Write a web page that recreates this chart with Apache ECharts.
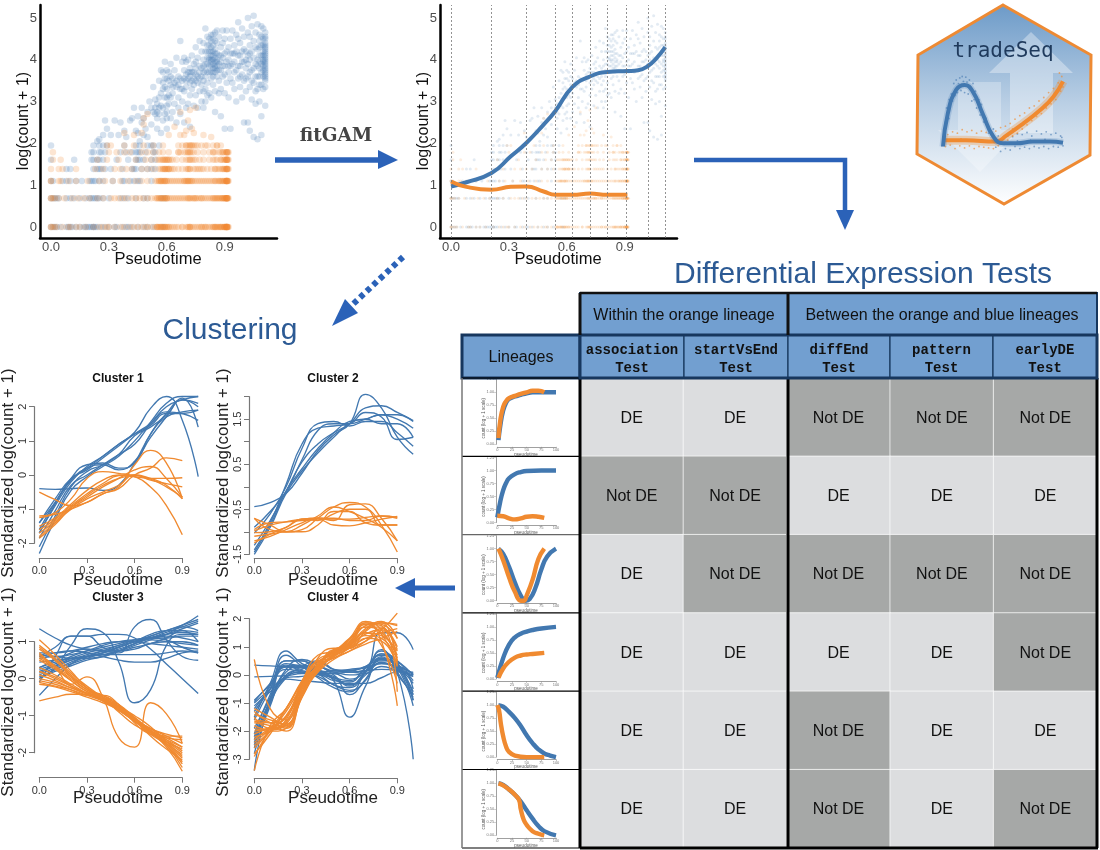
<!DOCTYPE html>
<html><head><meta charset="utf-8">
<style>html,body{margin:0;padding:0;background:#fff}#c{width:1100px;height:850px}</style>
<script src="https://cdn.jsdelivr.net/npm/echarts@6/dist/echarts.min.js"></script>
</head><body><div id="c"></div>
<script>
const BLUE='#4278B0', ORANGE='#F08A30', ARROW='#2B62B8', HEAD='#729FD0', NAVY='#17375E', TITLE='#2C5A94';
const SANS='"Liberation Sans",Arial,sans-serif';

// ---------- top scatter: discrete count levels ----------
const levels=[0,0.69,1.10,1.39,1.61,1.79,1.95];
const orangeRows=[
[0,0,.01,.02,.03,.06,.09,.1,.13,.15,.18,.22,.25,.27,.29,.3,.33,.36,.38,.41,.43,.45,.47,.49,.5,.52,.54,.55,.56,.57,.58,.59,.6,.61,.62,.64,.66,.68,.7,.71,.72,.74,.75,.77,.79,.8,.81,.83,.84,.85,.86,.87,.88,.89,.9,.9,.91,.91,.91],
[0,0,.01,.02,.04,.07,.11,.14,.17,.2,.24,.27,.31,.33,.35,.37,.39,.42,.44,.46,.48,.5,.52,.54,.55,.56,.57,.58,.59,.6,.62,.63,.65,.67,.68,.7,.71,.72,.73,.75,.76,.78,.8,.81,.83,.85,.86,.87,.88,.89,.9,.9,.91,.91],
[0,0,.04,.05,.09,.13,.19,.25,.28,.32,.36,.4,.44,.47,.5,.55,.56,.57,.58,.59,.6,.62,.63,.65,.67,.68,.69,.7,.71,.72,.74,.75,.77,.79,.8,.82,.84,.85,.87,.88,.89,.9,.91,.91,.91],
[0,.04,.06,.13,.23,.27,.33,.36,.39,.42,.47,.5,.53,.57,.58,.59,.6,.61,.63,.66,.68,.7,.71,.72,.74,.76,.77,.79,.81,.83,.85,.86,.88,.89,.9,.91,.91],
[.01,.05,.24,.29,.35,.44,.49,.52,.55,.57,.58,.59,.6,.61,.62,.65,.68,.7,.72,.73,.75,.77,.79,.82,.84,.86,.88,.89,.9,.91,.91,.91],
[.01,.3,.34,.38,.41,.47,.5,.53,.56,.58,.61,.66,.67,.69,.71,.72,.73,.76,.79,.82,.84,.85,.87,.88,.89,.91,.91],
[.29,.31,.38,.43,.48,.53,.58,.66,.68,.7,.71,.72,.73,.75,.76,.78,.8,.81,.84,.86,.88]];
const orangeDense=[
[.55,.56,.57,.58,.59,.6,.61,.63,.65,.68,.71,.72,.73,.76,.78,.8,.82,.84,.85,.86,.87,.88,.89,.9,.905,.91,.91,.915,.915,.92,.55,.57,.59,.72,.78,.85,.88,.9,.91,.915],
[.55,.56,.57,.58,.59,.6,.61,.64,.66,.69,.71,.72,.74,.75,.77,.79,.82,.84,.85,.86,.87,.88,.89,.9,.905,.91,.91,.915,.915,.92,.6,.58,.74,.78,.84,.89,.91,.915],
[.54,.56,.57,.58,.59,.6,.61,.64,.66,.69,.7,.71,.72,.73,.76,.78,.81,.83,.85,.86,.88,.89,.9,.905,.91,.915,.915,.92,.57,.59,.71,.73,.87,.91,.915],
[.56,.58,.59,.6,.61,.62,.64,.71,.72,.75,.78,.85,.87,.89,.9,.91,.915,.92,.915,.91,.59,.61],
[.56,.58,.6,.61,.63,.71,.72,.74,.85,.88,.9,.91,.915,.92,.915,.59],
[.7,.71,.72,.74,.84,.89,.9,.91,.915,.92,.915,.66],
[.7,.72,.73,.74,.86]];
const blueRows=[
[0,.01,.02,.03,.05,.08,.09,.1,.11,.13,.15,.17,.18,.19,.2,.21,.22,.22,.23,.24,.26,.28,.3,.33,.34,.37,.39,.4,.42,.45,.48,.5,.53,.58],
[0,.01,.02,.03,.04,.08,.1,.12,.15,.18,.2,.21,.22,.23,.24,.25,.27,.3,.36,.38,.4,.44,.48,.5,.57,.59],
[0,.01,.06,.08,.1,.13,.16,.2,.21,.22,.23,.25,.27,.32,.37,.38,.41,.43,.45,.46,.52],
[.08,.1,.22,.24,.25,.26,.28,.31,.37,.42,.43,.44,.47,.5,.52,.54],
[0,.12,.21,.22,.24,.25,.27,.34,.4,.44,.45,.46,.48,.52,.54],
[.21,.22,.25,.26,.28,.36,.39,.42,.44,.45,.46,.49,.53,.54],
[0,.22,.25,.27,.29,.38,.44,.46,.5,.52,.53,.56]];
const orangeOff=[[.38,2.25],[.43,2.2],[.47,2.25],[.48,2.45],[.48,2.6],[.5,2.7],[.64,2.4],[.67,2.2],[.69,2.2],[.7,2.3],[.71,2.55],[.72,2.8],[.73,2.35],[.74,2.25],[.67,2.75],[.61,2.2],[.79,2.2],[.83,2.15],[.75,2.85]];
const blueCloud=[
[.27,2.2],[.28,2.55],[.29,2.35],[.25,2.1],[.24,2.05],[.31,2.2],[.33,2.55],[.35,2.2],[.36,2.5],[.38,2.3],[.39,2.15],[.41,2.55],[.42,2.6],[.43,2.85],[.44,2.3],[.45,2.65],[.45,2.25],[.46,2.05],[.47,2.85],[.47,2.5],[.48,2.6],[.48,2.2],[.49,2.35],[.5,2.15],[.5,2.75],[.51,3.0],[.52,2.85],[.52,2.45],[.53,3.35],[.54,3.05],[.54,2.7],[.55,2.35],[.55,2.95],[.56,3.5],[.56,2.7],[.57,3.75],[.57,2.9],[.57,2.25],[.58,3.3],[.58,2.55],[.59,3.95],[.59,3.1],[.59,2.7],[.6,3.55],[.6,3.3],[.6,2.9],[.6,2.35],[.61,3.7],[.61,3.15],[.62,2.6],[.62,3.9],[.62,3.4],[.63,3.55],[.63,3.2],[.64,3.75],[.64,2.95],[.65,3.35],[.65,4.05],[.65,2.5],[.66,3.6],[.66,3.1],[.67,3.3],[.67,2.7],[.67,4.45],[.68,3.95],[.68,3.5],[.68,3.0],[.69,4.05],[.69,3.25],[.69,2.5],[.7,3.65],[.7,3.35],[.7,2.85],[.71,4.0],[.71,3.55],[.71,2.95],[.72,3.8],[.72,3.45],[.72,3.15],[.72,2.4],[.73,4.1],[.73,3.7],[.73,3.3],[.74,3.55],[.74,3.9],[.74,2.9],[.75,4.3],[.75,3.65],[.75,3.15],[.76,4.05],[.76,3.45],[.76,2.85],[.77,3.85],[.77,3.25],[.77,4.45],[.78,4.2],[.78,3.6],[.78,3.0],[.79,4.4],[.79,4.0],[.79,3.5],[.79,2.85],[.8,4.75],[.8,3.75],[.8,3.3],[.8,3.0],[.81,4.55],[.81,4.2],[.81,3.9],[.81,3.45],[.81,3.15],[.82,4.35],[.82,4.0],[.82,3.7],[.82,3.2],[.83,4.6],[.83,4.3],[.83,4.1],[.83,3.85],[.83,3.55],[.83,3.1],[.84,4.5],[.84,4.2],[.84,4.0],[.84,3.8],[.84,3.4],[.85,4.65],[.85,4.25],[.85,4.05],[.85,3.95],[.85,3.7],[.85,3.25],[.85,2.75],[.86,4.4],[.86,4.0],[.86,3.85],[.86,3.6],[.87,4.55],[.87,4.1],[.87,3.9],[.87,3.5],[.87,3.2],[.88,4.3],[.88,3.75],[.88,3.3],[.88,2.65],[.89,4.7],[.89,4.05],[.89,3.6],[.9,4.5],[.9,4.15],[.9,3.85],[.9,3.2],[.9,2.35],[.91,4.7],[.91,3.95],[.91,3.45],[.92,4.3],[.92,4.0],[.92,3.7],[.92,3.1],[.93,4.5],[.93,3.85],[.93,2.35],[.94,4.15],[.94,3.45],[.95,4.35],[.95,3.95],[.95,3.3],[.96,4.6],[.96,3.75],[.96,3.0],[.97,4.9],[.97,4.1],[.97,3.55],[.98,4.4],[.98,3.35],[.98,3.85],[.99,4.2],[.99,3.65],[.99,3.1],[1.0,4.55],[1.0,3.95],[1.0,3.5],[1.0,2.5],[1.01,4.2],[1.01,3.8],[1.01,3.25],[1.02,5.0],[1.02,4.65],[1.02,3.6],[1.02,2.5],[1.03,4.35],[1.03,4.0],[1.03,3.35],[1.03,2.3],[1.04,4.8],[1.04,3.75],[1.04,3.05],[1.05,5.05],[1.05,4.45],[1.05,4.05],[1.05,3.45],[1.05,2.15],[1.06,4.65],[1.06,3.9],[1.06,3.25],[1.06,2.95],[1.07,4.85],[1.07,4.25],[1.07,3.6],[1.07,2.1],[1.08,4.6],[1.08,4.1],[1.08,3.8],[1.08,3.0],[1.09,4.8],[1.09,4.35],[1.09,3.9],[1.09,3.4],[1.09,2.2],[1.09,2.65],[1.1,4.75],[1.1,4.5],[1.1,4.2],[1.1,3.95],[1.1,3.75],[1.1,3.3],[1.11,4.65],[1.11,4.55],[1.11,4.4],[1.11,4.3],[1.11,4.2],[1.11,4.1],[1.11,4.0],[1.11,3.9],[1.11,3.8],[1.11,3.7],[1.11,3.6],[1.11,3.5],[1.11,3.35],[1.11,2.9],[1.08,4.45],[1.07,4.0],[1.06,4.3],[1.03,4.55],[.99,4.75],[.94,4.7],[.86,4.7],[.84,3.6],[.83,3.7],[.82,4.5],[.81,3.7],[.85,4.45],[.85,3.85],[.84,4.35],[.7,3.95],[.69,3.75],[.72,3.6],[.75,3.95],[.74,3.4],[.65,3.5],[.62,3.1],[.61,3.5],[.58,3.7],[.58,2.85],[.56,3.1],[.55,2.75],[.6,2.6],[.64,3.45],[.77,3.55],[.79,3.25],
[.82,4.05],[.83,3.95],[.83,4.0],[.84,4.1],[.84,3.9],[.85,3.8],[.85,4.15],[.82,3.85],[.83,4.2],[.84,3.7],[.86,3.95],[.86,4.15],[.81,4.05],[.81,4.35],[.82,4.2],[.83,4.45],[.84,4.6],[.86,3.75],[.87,3.75],[.88,3.95],[.88,4.1],[.8,3.6],[.8,3.9],[.8,4.2],[.79,3.7],[.79,3.85],[.78,3.8],[.78,3.4],[.77,3.7],[.76,3.6],[.75,3.5],[.75,3.8],[.74,3.7],[.73,3.5],[.72,3.7],[.71,3.7],[.7,3.5],[.69,3.55],[.68,3.3],[.67,3.55],[.66,3.4],[.63,3.35],[.6,3.1],[.59,3.35],[.58,3.45],[.57,3.2],[.56,2.85],[.55,2.6],[.54,2.85],[.53,2.75],[.6,2.75],[.61,2.95],[.63,2.75],[.66,2.85],[.62,3.6],[.6,3.75],[.59,3.55],
[.9,3.65],[.92,3.85],[.93,4.15],[.94,3.9],[.95,3.7],[.96,4.2],[.97,3.85],[.98,4.1],[.99,3.95],[1.0,4.25],[1.01,4.0],[1.01,3.55],[1.02,4.1],[1.02,3.9],[1.03,3.7],[1.04,4.2],[1.04,3.5],[1.05,3.8],[1.06,3.6],[1.07,3.85],[1.07,3.3],[1.08,3.6],[1.08,3.4],[1.09,4.1],[1.09,3.7],[1.1,3.6],[1.1,4.0],[1.1,4.35],[1.11,4.25],[1.11,4.15],[1.11,4.05],[1.11,3.95],[1.11,3.85],[1.11,3.75],[1.11,3.65],[1.11,4.35],[1.11,4.5],[1.11,3.55],[1.1,3.85],[1.1,4.1],[1.09,4.55],[1.08,3.95],[1.08,4.3],[1.03,4.15],[.98,3.6],[.97,4.5],[.95,4.15],[.93,3.55],[.91,4.2],[.89,3.85],[.89,4.4]];
const topXTicks=[0,0.3,0.6,0.9], topYTicks=[0,1,2,3,4,5];
const knots=[0,.21,.39,.54,.63,.72,.81,.914,1.017,1.11];
const fitBlue=[[0,.97],[.08,1.07],[.21,1.29],[.31,1.69],[.39,2.01],[.48,2.45],[.54,2.77],[.63,3.35],[.72,3.6],[.81,3.71],[.914,3.73],[.97,3.75],[1.017,3.84],[1.065,4.04],[1.11,4.3]];
const fitOrange=[[0,1.09],[.08,.96],[.21,.89],[.31,.96],[.39,.97],[.48,.85],[.54,.77],[.63,.77],[.72,.80],[.81,.77],[.914,.77]];

// ---------- cluster panels: value at pseudotime 0, .1, .2 ... ----------
const clusterX=[0,.1,.2,.3,.4,.5,.6,.7,.8,.9,1];
const c1Blue=[
[-2.3,-1.3,-.45,-.05,.25,.55,1.0,1.55,2.1,2.3,2.3],[-2.1,-1.2,-.35,.1,.3,.6,1.15,1.4,1.75,2.2,2.1],
[-1.7,-.9,-.2,.25,.55,.9,1.25,1.95,2.3,1.6,-.05],[-1.7,-.85,-.1,.3,.35,.2,.35,1.2,1.7,1.85,1.9],
[-1.6,-.8,-.15,.2,.3,.15,.4,1.1,1.7,2.25,1.4],[-1.4,-.7,-.1,.15,.5,.85,1.2,1.5,1.85,1.8,1.6],
[-1.4,-.8,-.15,.2,.55,.9,1.2,1.45,1.8,1.8,1.9],[-.4,-.42,-.4,-.38,-.45,-.3,.35,1.2,1.8,2.2,2.0],
[-1.85,-1.05,-.3,0,.3,.6,.9,1.5,2.0,2.2,2.3]];
const c1Orange=[
[-.5,-.72,-.9,-.8,-.55,-.35,.3,.72,.35,-.7],[-1.2,-1.15,-1.0,-.8,-.55,-.4,0,.2,.5,.42],
[-1.25,-1.1,-.7,-.1,.1,.05,-.05,-.35,-.9,-1.75],[-1.5,-1.25,-.85,-.45,-.15,0,-.05,-.1,-.1,-.08],
[-1.6,-1.3,-.9,-.55,-.25,-.02,0,-.15,-.25,-.35],[-1.7,-1.35,-.95,-.65,-.35,-.1,.15,.25,-.1,-.65],
[-1.8,-1.4,-1.0,-.7,-.5,-.3,0,-.1,-.3,-.7],[-1.85,-1.45,-.95,-.6,-.3,-.1,-.02,-.12,-.35,-.65]];
const c2Blue=[
[-.44,-.35,-.15,.3,.8,1.15,1.4,2.05,1.75,1.1,.72],[-.9,-.55,-.1,.6,1.25,1.4,1.4,1.5,1.6,1.5,1.3],
[-1.03,-.6,0,.85,1.4,1.45,1.35,1.45,1.45,1.2,.9],[-1.3,-.75,-.1,.55,.95,1.2,1.4,1.75,1.8,1.65,1.47],
[-1.4,-.8,.05,.95,1.3,1.35,1.4,1.65,1.55,1.05,1.1],[-1.45,-.85,-.1,.4,.85,1.2,1.45,1.5,1.6,1.6,1.45],
[-1.5,-.9,-.15,.35,.75,1.1,1.4,1.5,1.4,1.4,1.1]];
const c2Orange=[
[-.7,-.95,-1.0,-.95,-.7,-.45,-.35,-.45,-.85,-1.45],[-1.2,-1.1,-.95,-.8,-.7,-.75,-.4,-.38,-.7,-1.2],
[-1.1,-1.05,-1.0,-1.0,-.85,-.55,-.55,-.8,-.85,-.85],[-.98,-.85,-.78,-.72,-.7,-.72,-.72,-.68,-.65,-.68],
[-.95,-.8,-.78,-.75,-.72,-.85,-.87,-.8,-.72,-.66],[-1.02,-1.0,-.9,-.72,-.7,-.7,-.75,-.75,-.65,-.7],
[-.7,-.85,-1.0,-.85,-.65,-.45,-.55,-.7,-.9,-1.2],[-1.25,-1.05,-.9,-.72,-.75,-.6,-.5,-.5,-.85,-.85]];
const c3Blue=[
[1.35,1.1,.9,.8,.75,.75,.8,.95,1.0,1.0,.9],[0,.3,.9,1.35,1.25,.45,-.65,-.3,.9,1.2,1.2],
[.3,.5,.7,.8,.75,.7,1.4,1.6,1.05,.6,.5],[.6,.85,1.15,1.15,1.2,1.2,1.1,.8,.4,0,-.4],
[.6,.7,.75,.7,.6,.5,.45,.45,.55,.7,.75],[-.1,.6,1.15,1.15,.85,.75,.85,.95,1.1,1.3,1.25],
[0,.25,.45,.6,.7,.85,1.0,1.15,1.3,1.45,1.7],[.1,.3,.5,.65,.75,.9,1.0,1.15,1.3,1.45,1.6],
[.2,.35,.5,.6,.7,.8,.95,1.1,1.25,1.4,1.55],[.3,.45,.55,.6,.65,.75,.9,1.05,1.2,1.35,1.5],
[.05,.2,.35,.5,.6,.75,.95,1.1,1.2,1.25,1.2],[.55,.6,.55,.55,.6,.75,.95,1.1,1.15,1.1,1.0],
[.65,.6,.65,.75,.85,.95,1.05,1.1,1.1,1.15,1.15],[.25,.4,.6,.75,.9,1.0,1.05,1.05,1.0,.95,.9],
[.15,.35,.55,.7,.8,.9,1.05,1.1,1.05,.85,.7],[.45,.5,.55,.6,.65,.65,.65,.65,.7,.75,.7],
[.7,.7,.75,.85,.95,1.0,1.0,.95,.9,.85,.8],[0,.25,.4,.55,.7,.85,1.0,1.2,1.3,1.3,1.0],
[-.45,0,.4,.6,.75,.85,1.0,1.1,1.2,1.4,1.3]];
const c3Orange=[
[-.6,-.5,-.42,-.42,-.55,-.75,-1.0,-1.3,-1.7,-2.1],[.6,.3,-.15,.05,-.5,-1.6,-1.85,-.65,-.95,-1.75],
[1.05,.65,.2,-.25,-.55,-.85,-1.15,-1.45,-1.85,-2.5],[.9,.55,.15,-.2,-.5,-.8,-1.1,-1.45,-1.8,-2.4],
[.8,.5,.1,-.25,-.5,-.75,-1.05,-1.4,-1.75,-2.25],[.65,.35,.05,-.25,-.5,-.8,-1.1,-1.4,-1.75,-2.15],
[.5,.25,-.05,-.35,-.6,-.85,-1.15,-1.45,-1.7,-2.0],[.3,.1,-.15,-.4,-.6,-.85,-1.1,-1.4,-1.6,-1.85],
[.2,0,-.2,-.4,-.55,-.8,-1.1,-1.35,-1.55,-1.75],[.1,-.05,-.25,-.4,-.55,-.75,-1.1,-1.35,-1.5,-1.6],
[0,-.1,-.25,-.4,-.5,-.7,-1.05,-1.4,-1.55,-1.55],[-.1,-.2,-.3,-.45,-.6,-.8,-1.1,-1.35,-1.65,-1.95],
[-.15,-.22,-.35,-.5,-.65,-.85,-1.15,-1.45,-1.75,-2.05],[.85,.5,.05,-.3,-.45,-.75,-1.15,-1.5,-1.8,-2.3],
[.7,.3,-.05,-.35,-.45,-.7,-1.1,-1.45,-1.7,-1.9],[.2,.05,-.2,-.4,-.55,-.9,-1.25,-1.45,-1.65,-1.85],
[.55,.3,0,-.3,-.55,-.75,-1.1,-1.55,-1.9,-2.2],[-.05,-.15,-.3,-.45,-.45,-.7,-1.2,-1.5,-1.6,-1.65]];
const c4Blue=[
[.35,.32,.28,.25,.3,.1,.15,.25,.4,.3,.05],[-.07,-.05,-.03,.05,.05,.15,.1,.15,.2,.15,0],
[-.9,-.35,.2,.1,-.05,-.35,-.55,-.2,.65,0,-.7],[-.95,-.3,.3,.35,.15,-.15,-.35,.1,.9,.1,-.8],
[-1.2,-.4,.7,.3,-.1,-.45,-.6,.1,.75,.45,-.9],[-1.5,-.3,.85,.4,.2,-.2,-1.5,-.4,.6,.35,-.2],
[-1.9,-.8,.4,.3,.15,.1,0,.15,1.5,1.5,.9],[-2.2,-.9,.1,.3,.3,.15,.2,.3,.75,.1,-3.0],
[-2.4,-1.0,0,.2,.45,.2,.15,.3,.55,.35,.05],[-2.6,-1.0,-.1,.3,.5,.2,.1,.15,.45,.2,-.05],
[-2.8,-1.1,-.1,-.05,.05,.05,-.15,.1,.6,.3,-.9],[-3.4,-.9,-.1,.1,.05,-.2,-.25,.25,.6,.25,-1.1],
[-1.1,-.6,-.15,-.2,-.25,-.3,-.3,-.3,-.1,.1,.1],[-1.0,-.5,-.05,.1,0,-.1,-.35,.1,.85,.5,0],
[-2.3,-.9,.2,.55,.35,0,-.4,.1,.5,.45,-.5],[-1.6,-.5,.5,.5,.15,-.1,-.2,.25,.7,.4,-.7],
[-1.3,-.5,.3,.25,.05,-.35,-.45,0,.4,.25,-.3],[-2.1,-.7,.35,.15,.1,.05,.1,.05,.3,.15,-.05],
[-2.5,-.85,.5,.5,.05,-.05,-.7,-.15,.55,.3,-.6]];
const c4Orange=[
[.55,-1.2,-1.6,-.4,.3,.6,.85,1.1,1.3,1.55],[-1.2,-1.5,-1.8,-.6,.1,.75,.95,1.2,1.6,2.2],
[-1.5,-1.9,-1.7,-.4,.35,.8,1.1,1.75,1.85,1.75],[-1.6,-1.7,-1.9,-.6,.25,.7,1.15,1.85,1.8,1.3],
[-1.7,-1.8,-2.0,-.7,.4,.8,1.05,1.6,1.85,1.8],[-2.0,-1.9,-1.8,-.8,.2,.9,.95,1.55,1.85,.4],
[-2.2,-2.0,-1.6,-.3,.45,.75,1.3,1.9,1.6,.6],[-2.4,-1.9,-1.2,-.2,.55,.8,1.2,1.7,1.7,.5],
[-2.6,-2.0,-1.3,-.4,.3,.7,1.0,1.8,1.75,-.6],[-2.8,-2.1,-1.2,-.3,.35,.85,1.15,1.85,1.2,-1.1],
[-3.4,-1.8,-1.2,-.25,.5,.6,1.0,1.5,1.4,.85],[-2.9,-2.0,-1.5,-.5,.2,.65,.95,1.4,1.3,.5],
[-1.9,-2.0,-1.9,-.5,.6,.95,.95,1.3,1.2,.35],[-1.3,-1.7,-1.85,-.8,.3,.85,1.05,1.45,1.6,.9],
[-1.65,-1.7,-1.5,-.45,.35,.9,1.1,1.65,1.9,1.3],[-2.3,-1.9,-1.65,-.6,.15,.75,1.25,1.8,1.45,.3],
[-2.5,-2.0,-1.45,-.5,.25,.65,1.1,1.5,1.05,-.3],[-1.4,-1.6,-1.75,-.35,.45,.8,1.0,1.3,1.5,1.65],
[-2.1,-1.85,-1.5,-.25,.7,.85,1.3,1.7,1.5,.7],[-1.8,-1.95,-1.75,-.7,.1,.55,.85,1.2,1.65,1.0]];

// ---------- table ----------
const groupHeads=['Within the orange lineage','Between the orange and blue lineages'];
const testNames=['association\nTest','startVsEnd\nTest','diffEnd\nTest','pattern\nTest','earlyDE\nTest'];
const tableRows=[
['DE','DE','Not DE','Not DE','Not DE'],
['Not DE','Not DE','DE','DE','DE'],
['DE','Not DE','Not DE','Not DE','Not DE'],
['DE','DE','DE','DE','Not DE'],
['DE','DE','Not DE','DE','DE'],
['DE','DE','Not DE','DE','Not DE']];
const miniBlue=[
[[2,.08],[5,.35],[10,.65],[15,.8],[20,.87],[30,.92],[40,.95],[50,.98],[60,1],[75,1],[100,1]],
[[0,.1],[5,.4],[10,.62],[15,.76],[20,.85],[30,.93],[40,.97],[50,.99],[75,1],[100,1]],
[[2,1],[10,.9],[20,.65],[30,.35],[40,.1],[48,0],[55,.03],[65,.25],[75,.6],[85,.85],[100,1]],
[[0,.02],[10,.4],[20,.66],[30,.8],[40,.87],[50,.91],[60,.94],[75,.97],[100,1]],
[[2,1],[10,.97],[20,.87],[30,.75],[40,.6],[50,.42],[60,.27],[70,.15],[80,.07],[90,.03],[100,0]],
[[2,1],[10,.97],[20,.88],[30,.78],[40,.65],[50,.48],[60,.32],[70,.18],[80,.08],[100,0]]];
const miniOrange=[
[[2,.12],[5,.45],[10,.72],[15,.83],[20,.89],[30,.93],[40,.97],[50,1],[60,1.03],[70,1.03],[80,1]],
[[0,.13],[10,.12],[20,.08],[30,.06],[40,.08],[50,.11],[60,.12],[70,.11],[80,.09]],
[[2,1],[10,.78],[20,.45],[30,.17],[40,0],[45,0],[50,.1],[60,.4],[70,.8],[80,1]],
[[2,.02],[10,.2],[20,.33],[30,.41],[40,.45],[50,.47],[60,.48],[80,.5]],
[[0,1],[3,.9],[6,.65],[10,.4],[15,.2],[20,.1],[30,.03],[50,0],[80,0]],
[[2,1],[10,.96],[20,.88],[30,.78],[37,.68],[40,.5],[45,.3],[50,.2],[60,.08],[70,.03],[80,0]]];

// ---------- hex logo ----------
const logoBlue=[[0,.05],[4,.52],[11,.86],[18,.93],[25,.83],[33,.52],[42,.19],[50,.095],[61,.095],[75,.12],[89,.12],[100,.105]];
const logoOrange=[[0,.14],[19,.14],[44,.12],[53,.21],[67,.38],[81,.57],[92,.76],[100,.98]];
const logoBlueDots=[[2,.4],[3,.6],[5,.45],[5,.72],[6,.62],[7,.8],[8,.7],[9,.95],[10,.78],[11,1],[12,.82],[13,.95],[14,1.03],[15,.85],[16,1.05],[17,.98],[18,.82],[19,1.04],[20,.97],[21,.8],[22,1.0],[23,.9],[24,.7],[25,.95],[26,.72],[27,.84],[28,.6],[30,.72],[31,.5],[32,.65],[34,.4],[36,.45],[38,.24],[40,.12],[42,.3],[44,.04],[46,.2],[48,-.02],[50,.18],[52,.02],[54,.2],[56,0],[58,.19],[60,.05],[62,.23],[64,.02],[66,.22],[68,.04],[70,.25],[72,.02],[74,.2],[76,.05],[78,.27],[80,.03],[82,.23],[84,.05],[86,.26],[88,.02],[90,.22],[92,.05],[94,.24],[96,.04],[98,.2],[100,.06],[99,.18],[95,.12],[85,.15],[73,.14],[62,.13],[51,.08]];
const logoOrangeDots=[[1,.25],[2,.05],[4,.22],[6,.07],[8,.26],[10,.02],[12,.24],[14,.06],[16,.29],[18,.03],[20,.26],[22,.06],[24,.28],[26,.02],[28,.24],[30,.05],[32,.27],[34,.04],[36,.25],[38,.03],[40,.22],[42,.02],[44,.27],[46,.06],[48,.32],[50,.1],[52,.34],[54,.14],[56,.38],[58,.2],[60,.44],[62,.24],[64,.49],[66,.3],[68,.53],[70,.36],[72,.6],[74,.42],[76,.63],[78,.48],[80,.7],[82,.52],[84,.75],[86,.6],[88,.82],[90,.66],[92,.88],[94,.72],[96,.96],[98,.84],[99,1.05],[100,.9],[97,1.1],[85,.63],[73,.46],[58,.3],[33,.14],[15,.16]];

// ---------- builders ----------
const grids=[],xAxes=[],yAxes=[],series=[];
function addPanel(g,x,y){const i=grids.length;grids.push(g);xAxes.push(Object.assign({gridIndex:i,type:'value',splitLine:{show:false}},x));yAxes.push(Object.assign({gridIndex:i,type:'value',splitLine:{show:false}},y));return i;}
function scatter(i,data,color,size,op){series.push({type:'scatter',xAxisIndex:i,yAxisIndex:i,data,symbolSize:size,silent:true,clip:false,itemStyle:{color,opacity:op},animation:false});}
function line(i,data,color,w,extra){series.push(Object.assign({type:'line',xAxisIndex:i,yAxisIndex:i,data,smooth:.5,showSymbol:false,symbol:'none',silent:true,clip:false,lineStyle:{color,width:w},animation:false},extra||{}));}

function topPanel(left,size,op,withFit){
  const i=addPanel({left,top:5,width:237,height:233},
   {min:-.057,max:1.171,axisLine:{onZero:false,lineStyle:{color:'#000',width:2.5}},axisTick:{show:false},
    axisLabel:{customValues:topXTicks,formatter:v=>v.toFixed(1),color:'#4d4d4d',fontSize:13,fontFamily:SANS,margin:3}},
   {min:-.263,max:5.31,axisLine:{onZero:false,show:true,lineStyle:{color:'#000',width:2.5}},axisTick:{show:false},
    axisLabel:{customValues:topYTicks,color:'#4d4d4d',fontSize:13,fontFamily:SANS,margin:3}});
  const cloud=blueCloud.slice();
  blueRows.forEach((r,k)=>r.forEach(x=>cloud.push([x,levels[k]])));
  const or=orangeOff.slice();
  orangeRows.forEach((r,k)=>r.forEach(x=>or.push([x,levels[k]])));
  orangeDense.forEach((r,k)=>r.forEach(x=>or.push([x,levels[k]])));
  scatter(i,cloud,BLUE,size,op);
  scatter(i,or,ORANGE,size,op);
  if(withFit){
    series.push({type:'line',xAxisIndex:i,yAxisIndex:i,data:[],silent:true,
      markLine:{silent:true,symbol:'none',animation:false,label:{show:false},lineStyle:{color:'#777',type:[2,2],width:.8},data:knots.map(k=>({xAxis:k}))}});
    line(i,fitBlue,'#4278B0',4);
    line(i,fitOrange,ORANGE,4);
  }
}
topPanel(40,6.5,.22,false);
topPanel(440,3,.15,true);

function clusterPanel(left,top,height,yMin,yMax,labels,tickInt,xOff,blue,orange){
  const axisCol='#777';
  addPanel({left,top,width:143,height},
   {min:0,max:.9,interval:.3,offset:xOff,axisLine:{onZero:false,lineStyle:{color:axisCol,width:1.2}},axisTick:{length:5,lineStyle:{color:axisCol}},
    axisLabel:{formatter:v=>v.toFixed(1),color:'#333',fontSize:11,fontFamily:SANS,margin:7.5,showMinLabel:true,showMaxLabel:true,hideOverlap:false}},
   {min:yMin,max:yMax,interval:tickInt,offset:5.3,axisLine:{show:true,onZero:false,lineStyle:{color:axisCol,width:1.2}},axisTick:{show:true,length:5,lineStyle:{color:axisCol}},
    axisLabel:{customValues:labels,rotate:90,color:'#333',fontSize:11,fontFamily:SANS,margin:5.5,hideOverlap:false}});
  const i=addPanel({left,top,width:143/.9,height},{min:0,max:1,show:false},{min:yMin,max:yMax,show:false});
  blue.forEach(v=>line(i,v.map((y,k)=>[clusterX[k],y]),BLUE,1.35));
  orange.forEach(v=>line(i,v.map((y,k)=>[clusterX[k],y]),ORANGE,1.35));
}
clusterPanel(39.3,406.7,136.6,-2,2,[-2,-1,0,1,2],1,14.7,c1Blue,c1Orange);
clusterPanel(254.3,396.7,157.6,-1.5,2,[-1.5,-.5,.5,1.5],.5,4,c2Blue,c2Orange);
clusterPanel(39.3,641.7,111,-2,1,[-2,-1,0,1],1,25,c3Blue,c3Orange);
clusterPanel(254.3,618.7,140.6,-3,2,[-3,-2,-1,0,1,2],1,19,c4Blue,c4Orange);

// table heatmap
const tI=grids.length;
grids.push({left:580,top:378,width:517,height:470});
xAxes.push({gridIndex:tI,type:'category',data:testNames,show:false});
yAxes.push({gridIndex:tI,type:'category',data:tableRows.map((r,i)=>i),inverse:true,show:false});
const cells=[];
tableRows.forEach((r,y)=>r.forEach((t,x)=>cells.push({value:[x,y,t==='DE'?1:0],name:t,itemStyle:{color:t==='DE'?'#DCDDDF':'#A6A8A7',borderColor:'#fff',borderWidth:.7}})));
series.push({type:'heatmap',xAxisIndex:tI,yAxisIndex:tI,data:cells,silent:true,animation:false,
  label:{show:true,formatter:p=>p.name,color:'#111',fontSize:16,fontFamily:SANS,offset:[0,1]}});

// mini plots
miniBlue.forEach((b,r)=>{
  const top=379.3+78.2*r;
  const i=addPanel({left:497.3,top,width:58.7,height:65},
   {min:0,max:100,interval:25,offset:2.5,axisLine:{onZero:false,lineStyle:{color:'#888',width:.8}},axisTick:{length:1.5,lineStyle:{color:'#888',width:.5}},
    axisLabel:{color:'#777',fontSize:4,margin:1,fontFamily:SANS,hideOverlap:false}},
   {min:0,max:1.25,interval:.25,offset:1.5,axisLine:{show:true,onZero:false,lineStyle:{color:'#888',width:.8}},axisTick:{show:true,length:1.5,lineStyle:{color:'#888',width:.5}},
    axisLabel:{formatter:v=>v.toFixed(2),color:'#777',fontSize:4,margin:1.5,fontFamily:SANS,hideOverlap:false}});
  line(i,b,BLUE,4.4);
  line(i,miniOrange[r],ORANGE,4.4);
});

// logo
const lI=addPanel({left:943,top:80,width:120,height:70},{min:0,max:100,show:false},{min:0,max:1,show:false});
scatter(lI,logoBlueDots,BLUE,1.8,.6);
scatter(lI,logoOrangeDots,ORANGE,1.8,.65);
line(lI,logoOrange,ORANGE,9,{lineStyle:{color:ORANGE,width:9,opacity:.3}});
line(lI,logoOrange,ORANGE,4);
line(lI,logoBlue,BLUE,9,{lineStyle:{color:BLUE,width:7,opacity:.22}});
line(lI,logoBlue,BLUE,4);

// ---------- decorations ----------
const T=(text,x,y,font,fill)=>({type:'text',x,y,z:200,silent:true,style:{text,font,fill,align:'center',verticalAlign:'middle'}});
const TR=(text,x,y,font,fill)=>({type:'text',x,y,z:200,rotation:Math.PI/2,silent:true,style:{text,font,fill,align:'center',verticalAlign:'middle'}});
const R=(x,y,w,h,fill,stroke,lw,z)=>({type:'rect',z:z||100,silent:true,shape:{x,y,width:w,height:h},style:{fill,stroke,lineWidth:lw}});
const L=(x1,y1,x2,y2,c,w,z)=>({type:'line',z:z||150,silent:true,shape:{x1,y1,x2,y2},style:{stroke:c,lineWidth:w}});
const P=(pts,fill,z)=>({type:'polygon',z:z||150,silent:true,shape:{points:pts},style:{fill}});
const g=[];
// logo under series
g.push({type:'polygon',z:-10,silent:true,shape:{points:[[1003,5],[1091,55],[1090,155],[1004,204],[917,154],[918,55]]},
  style:{lineWidth:3,stroke:'#EE8A33',fill:{type:'linear',x:0,y:0,x2:0,y2:1,colorStops:[{offset:0,color:'#6C9AC8'},{offset:.5,color:'#BBD0E5'},{offset:1,color:'#FFFFFF'}]}}});
g.push(P([[1031,32],[1073,73],[1053,73],[1053,133],[1010,133],[1010,73],[989,73]],'rgba(255,255,255,.35)',-9));
g.push(P([[958,82],[1001,82],[1001,130],[1020,130],[980,172],[938,130],[958,130]],'rgba(255,255,255,.28)',-9));
g.push(T('tradeSeq',1003,52,'21px "DejaVu Sans Mono",monospace','#1F3A5C'));
// top labels
[[24,121],[424,121]].forEach(p=>g.push(TR('log(count + 1)',p[0],p[1],'16px '+SANS,'#111')));
[[158,259],[558,259]].forEach(p=>g.push(T('Pseudotime',p[0],p[1],'16.5px '+SANS,'#111')));
g.push(T('fitGAM',336,136,'bold 18.5px "DejaVu Serif",serif','#444'));
// arrows
g.push(L(275,160,379,160,ARROW,5.5));
g.push(P([[378,150],[398,160],[378,169]],ARROW));
g.push({type:'polyline',z:150,silent:true,shape:{points:[[694,160],[845,160],[845,211]]},style:{stroke:ARROW,lineWidth:4.5,fill:'none'}});
g.push(P([[836,210],[854,210],[845,230]],ARROW));
g.push({type:'line',z:150,silent:true,shape:{x1:403,y1:257,x2:351,y2:306},style:{stroke:ARROW,lineWidth:6,lineDash:[5,4]}});
g.push(P([[345,299],[358,313],[332,326]],ARROW));
g.push(L(455,588,413,588,ARROW,5));
g.push(P([[415,578],[415,598],[395,588]],ARROW));
// titles
g.push(T('Clustering',230,331,'30px '+SANS,TITLE));
g.push(T('Differential Expression Tests',863,275,'30px '+SANS,TITLE));
// cluster labels
[['Cluster 1',118,379],['Cluster 2',333,379],['Cluster 3',118,598],['Cluster 4',333,598]].forEach(c=>g.push(T(c[0],c[1],c[2],'bold 12px '+SANS,'#111')));
[[8,473],[223,473],[8,692],[223,692]].forEach(p=>g.push(TR('Standardized log(count + 1)',p[0],p[1],'17px '+SANS,'#222')));
[[118,580],[333,580],[118,798],[333,798]].forEach(p=>g.push(T('Pseudotime',p[0],p[1],'17px '+SANS,'#222')));
// mini plot labels
miniBlue.forEach((b,r)=>{const top=379.3+78.2*r;
  g.push(TR('count (log + 1 scale)',484,top+39,'4.5px '+SANS,'#555'));
  g.push(T('pseudotime',526,top+75,'4.5px '+SANS,'#555'));});
// table header
g.push(R(580,293,208,42,HEAD,NAVY,2));
g.push(R(788,293,309,42,HEAD,NAVY,2));
g.push(R(462,335,118,43,HEAD,NAVY,3));
const cols=[580,684,788,890,993,1097];
testNames.forEach((t,k)=>{g.push(R(cols[k],335,cols[k+1]-cols[k],43,HEAD,NAVY,1.2));});
g.push(R(580,335,517,43,'none',NAVY,3,160));
g.push(T(groupHeads[0],684,316,'16px '+SANS,'#111'));
g.push(T(groupHeads[1],942,316,'16px '+SANS,'#111'));
g.push(T('Lineages',521,358,'16px '+SANS,'#111'));
testNames.forEach((t,k)=>g.push({type:'text',z:200,silent:true,x:(cols[k]+cols[k+1])/2,y:359,style:{text:t,font:'bold 14px "Liberation Mono",monospace',fill:'#111',align:'center',verticalAlign:'middle',lineHeight:18}}));
// table frame
[378,456.3,534.6,612.9,691.2,769.5,848].forEach((y,i)=>g.push(L(462,y,580,y,i===2?'#666':'#000',1.2)));
g.push(L(462,378,462,848,'#777',1.5));
g.push(L(580,378,580,848,'#000',3));
g.push(L(788,378,788,848,'#000',3));
g.push(L(1097,378,1097,848,'#000',3));
g.push(L(580,848,1098,848,'#000',3));
g.push(L(788,293,788,335,'#111',3,170));
g.push(L(580,293,580,335,'#111',3,170));
g.push(L(580,293,1097,293,'#111',2.5,170));

const chart=echarts.init(document.getElementById('c'),null,{renderer:'canvas'});
chart.setOption({animation:false,backgroundColor:'#fff',grid:grids,xAxis:xAxes,yAxis:yAxes,series,graphic:{elements:g}});
</script></body></html>
